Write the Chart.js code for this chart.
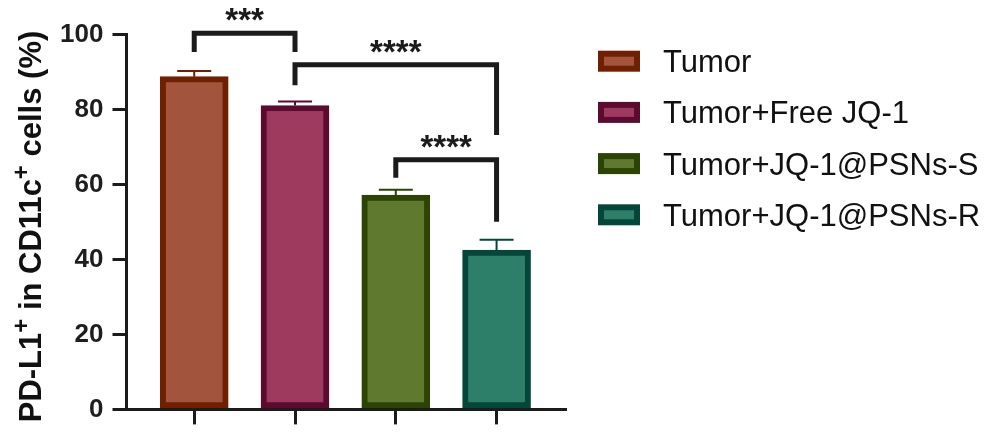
<!DOCTYPE html>
<html>
<head>
<meta charset="utf-8">
<script src="https://cdn.jsdelivr.net/npm/chart.js@4.4.1/dist/chart.umd.min.js"></script>
<style>
  html, body { margin: 0; padding: 0; background: #ffffff; }
  canvas { display: block; }
</style>
</head>
<body>
<canvas id="chart" width="992" height="434"></canvas>
<script>
// Groups and measured values (% PD-L1+ among CD11c+ cells, mean and SD)
const groups = ['Tumor', 'Tumor+Free JQ-1', 'Tumor+JQ-1@PSNs-S', 'Tumor+JQ-1@PSNs-R'];
const means = [88.8, 81.1, 57.2, 42.5];
const sds = [1.5, 1.1, 1.4, 2.8];
const yTicks = [0, 20, 40, 60, 80, 100];

// Significance comparisons (group indices, bracket level and drop ends in % units)
const cmpFrom = [0, 1, 2];
const cmpTo = [1, 3, 3];
const cmpLevel = [100.4, 92.0, 66.6];
const cmpDropFrom = [95.4, 86.5, 61.8];
const cmpDropTo = [95.4, 73.2, 50.1];
const cmpLabel = ['***', '****', '****'];

const fills = ['#a2553c', '#9d3a5e', '#5f7a2f', '#2e7f6a'];
const edges = ['#6e2000', '#5c0b30', '#2b4303', '#05463a'];
const ink = '#1b1b1b';
const FONT = "'Liberation Sans', Arial, Helvetica, sans-serif";

const errorBars = {
  id: 'errorBars',
  afterDatasetsDraw(chart) {
    const { ctx } = chart;
    const y = chart.scales.y;
    chart.data.datasets.forEach((ds, i) => {
      const bar = chart.getDatasetMeta(i).data[0];
      if (!bar) return;
      const top = y.getPixelForValue(means[i] + sds[i]);
      const base = y.getPixelForValue(means[i]);
      ctx.save();
      ctx.strokeStyle = ds.borderColor;
      ctx.lineWidth = 2;
      ctx.beginPath();
      ctx.moveTo(bar.x, base);
      ctx.lineTo(bar.x, top);
      ctx.moveTo(bar.x - 17, top);
      ctx.lineTo(bar.x + 17, top);
      ctx.stroke();
      ctx.restore();
    });
  }
};

const brackets = {
  id: 'brackets',
  afterDraw(chart) {
    const { ctx } = chart;
    const x = chart.scales.x, y = chart.scales.y;
    ctx.save();
    ctx.strokeStyle = ink;
    ctx.fillStyle = ink;
    ctx.lineWidth = 5;
    ctx.lineJoin = 'miter';
    ctx.lineCap = 'butt';
    ctx.font = 'bold 33px ' + FONT;
    ctx.textAlign = 'center';
    ctx.textBaseline = 'alphabetic';
    cmpFrom.forEach((a, k) => {
      const x1 = x.getPixelForValue(a), x2 = x.getPixelForValue(cmpTo[k]);
      const yt = y.getPixelForValue(cmpLevel[k]);
      ctx.beginPath();
      ctx.moveTo(x1, y.getPixelForValue(cmpDropFrom[k]));
      ctx.lineTo(x1, yt);
      ctx.lineTo(x2, yt);
      ctx.lineTo(x2, y.getPixelForValue(cmpDropTo[k]));
      ctx.stroke();
      ctx.fillText(cmpLabel[k], (x1 + x2) / 2, yt - 2);
    });
    ctx.restore();
  }
};

const sideLegend = {
  id: 'sideLegend',
  afterDraw(chart) {
    const { ctx } = chart;
    ctx.save();
    ctx.font = '31px ' + FONT;
    ctx.textBaseline = 'alphabetic';
    ctx.textAlign = 'left';
    chart.data.datasets.forEach((ds, i) => {
      const bx = 598, by = 50.7 + i * 51.2, bw = 42, bh = 21, bwid = 6;
      ctx.fillStyle = ds.borderColor;
      ctx.fillRect(bx, by, bw, bh);
      ctx.fillStyle = ds.backgroundColor;
      ctx.fillRect(bx + bwid, by + bwid, bw - 2 * bwid, bh - 2 * bwid);
      ctx.fillStyle = '#111111';
      ctx.fillText(ds.label, 663, by + bh / 2 + 11);
    });
    ctx.restore();
  }
};

const yTitle = {
  id: 'yTitle',
  afterDraw(chart) {
    const { ctx } = chart;
    const runs = [['PD-L1', 0], ['+', 1], [' in CD11c', 0], ['+', 1], [' cells (%)', 0]];
    const main = 'bold 31px ' + FONT, sup = 'bold 24px ' + FONT;
    ctx.save();
    let total = 0;
    runs.forEach(r => { ctx.font = r[1] ? sup : main; total += ctx.measureText(r[0]).width; });
    ctx.translate(40.5, 226.5);
    ctx.rotate(-Math.PI / 2);
    ctx.fillStyle = '#111111';
    ctx.textBaseline = 'alphabetic';
    ctx.textAlign = 'left';
    let cx = -total / 2;
    runs.forEach(r => {
      ctx.font = r[1] ? sup : main;
      ctx.fillText(r[0], cx, r[1] ? -12 : 0);
      cx += ctx.measureText(r[0]).width;
    });
    ctx.restore();
  }
};

new Chart(document.getElementById('chart'), {
  type: 'bar',
  data: {
    datasets: groups.map((g, i) => ({
      label: g,
      data: [{ x: i, y: means[i] }],
      backgroundColor: fills[i],
      borderColor: edges[i],
      borderWidth: 6,
      borderSkipped: false,
      barThickness: 68,
      grouped: false
    }))
  },
  options: {
    responsive: false,
    animation: false,
    devicePixelRatio: 1,
    layout: { padding: { left: 0, right: 427, top: 34.7, bottom: 0 } },
    plugins: { legend: { display: false }, tooltip: { enabled: false } },
    scales: {
      x: {
        type: 'linear',
        offset: false,
        min: -0.672,
        max: 3.679,
        z: 1,
        afterBuildTicks(scale) { scale.ticks = groups.map((g, i) => ({ value: i })); },
        afterFit(scale) { scale.height = 14.7; },
        ticks: { display: false },
        grid: { offset: false, drawOnChartArea: false, drawTicks: true, tickLength: 15, lineWidth: 3, color: ink },
        border: { display: true, width: 3, color: ink }
      },
      y: {
        min: 0,
        max: 100,
        afterBuildTicks(scale) { scale.ticks = yTicks.map(v => ({ value: v })); },
        afterFit(scale) { scale.width = 126.5; },
        ticks: {
          padding: 9,
          color: '#1e1e1e',
          font: { family: FONT, size: 26, weight: 'bold' }
        },
        grid: { drawOnChartArea: false, drawTicks: true, tickLength: 14, lineWidth: 3, color: ink },
        border: { display: true, width: 3, color: ink }
      }
    }
  },
  plugins: [errorBars, brackets, sideLegend, yTitle]
});
</script>
</body>
</html>
